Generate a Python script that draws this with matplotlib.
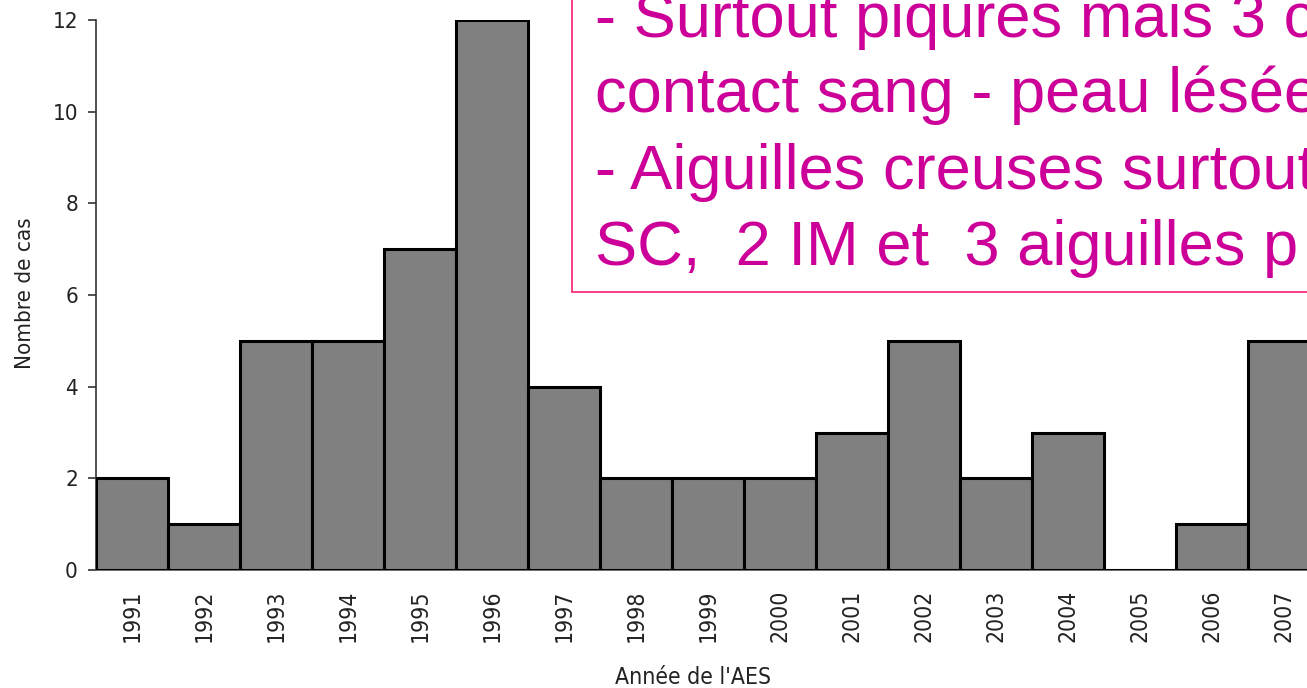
import matplotlib
matplotlib.use("Agg")
import matplotlib.pyplot as plt
from matplotlib.patches import Rectangle

years = ["1991", "1992", "1993", "1994", "1995", "1996", "1997", "1998", "1999",
         "2000", "2001", "2002", "2003", "2004", "2005", "2006", "2007"]
cases = [2, 1, 5, 5, 7, 12, 4, 2, 2, 2, 3, 5, 2, 3, 0, 1, 5]
yticks = [0, 2, 4, 6, 8, 10, 12]
note_lines = ["- Surtout piqures mais 3 cas",
              "contact sang - peau lésée",
              "- Aiguilles creuses surtout",
              "SC,  2 IM et  3 aiguilles p"]

W, H = 1307, 688
fig = plt.figure(figsize=(W / 100, H / 100), dpi=100)

axfont = dict(family=["DejaVu Sans"], stretch="condensed")

# axes: x from pixel 96 to 1320 (17 bars of 72 px), y from 570 (0) to 20 (12)
left, right = 96, 96 + 72 * 17
bottom, top = 570, 20
ax = fig.add_axes([left / W, (H - bottom) / H, (right - left) / W, (bottom - top) / H])

x = list(range(len(years)))
ax.bar(x, cases, width=1.0, color="#808080", edgecolor="black", linewidth=2.2, zorder=3)
ax.set_xlim(-0.5, len(years) - 0.5)
ax.set_ylim(0, 12)

ax.set_yticks(yticks)
ax.set_yticklabels([str(t) for t in yticks], fontsize=16, color="#222222", **axfont)
ax.set_xticks(x)
ax.set_xticklabels(years, rotation=90, fontsize=16.5, color="#222222",
                   va="top", ha="center", **axfont)
ax.tick_params(axis="y", length=6, width=1.2, color="#333333", pad=7)
ax.tick_params(axis="x", length=0, pad=14)

for s in ["top", "right"]:
    ax.spines[s].set_visible(False)
ax.spines["left"].set_color("#333333")
ax.spines["left"].set_linewidth(1.2)
ax.spines["bottom"].set_color("#555555")
ax.spines["bottom"].set_linewidth(1.2)
ax.spines["left"].set_bounds(0, 12)

fig.text(25 / W, (H - 293) / H, "Nombre de cas", rotation=90,
         fontsize=16, color="#222222", ha="center", va="center", **axfont)
fig.text(693 / W, (H - 678) / H, "Année de l'AES",
         fontsize=16.5, color="#222222", ha="center", va="center", **axfont)

# note box (partly outside the figure)
box_left, box_bottom = 572, 292
fig.patches.append(Rectangle((box_left / W, (H - box_bottom) / H), 1.0, 1.0,
                             transform=fig.transFigure, facecolor="white",
                             edgecolor="#F5307F", linewidth=1.3, zorder=5))
baselines = [37, 112, 189, 265]
for line, b in zip(note_lines, baselines):
    fig.text(595 / W, (H - b) / H, line, family="Liberation Sans", fontsize=45.5,
             color="#CC0099", ha="left", va="baseline", zorder=6)

fig.savefig("out.png", dpi=100)
